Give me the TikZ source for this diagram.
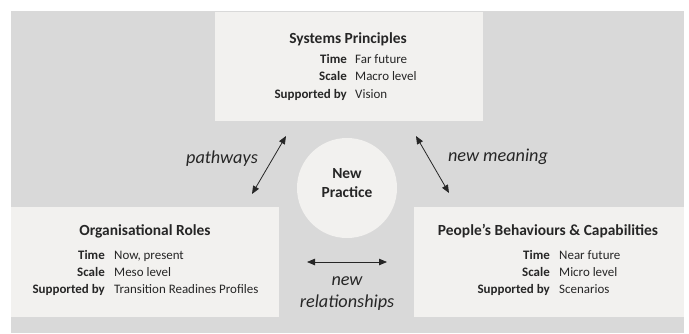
\documentclass[tikz,border=0pt]{standalone}
\usepackage{fontspec}
\setmainfont{Carlito}
\usetikzlibrary{arrows.meta}
\definecolor{bgc}{HTML}{D9D9D9}
\definecolor{boxc}{HTML}{F2F1EF}
\definecolor{txt}{HTML}{262626}
\tikzset{
  box/.style={fill=boxc, draw=none, inner sep=0pt, anchor=north west},
  ttl/.style={font=\fontsize{15.5}{17}\selectfont\bfseries, text=txt, inner sep=0pt, text height=10.5bp, text depth=3.5bp},
  key/.style={font=\fontsize{13}{15}\selectfont\bfseries, text=txt, inner sep=0pt, anchor=east, text height=9bp, text depth=3bp},
  val/.style={font=\fontsize{13}{15}\selectfont, text=txt, inner sep=0pt, anchor=west, text height=9bp, text depth=3bp},
  lbl/.style={font=\fontsize{18.3}{22}\selectfont\itshape, text=txt, inner sep=0pt, align=center},
  dbl/.style={{Triangle[length=8bp,width=6.5bp]}-{Triangle[length=8bp,width=6.5bp]}, draw=txt, line width=0.8bp}
}
\begin{document}
\begin{tikzpicture}[x={(1bp,0)}, y={(0,-1bp)}]
\useasboundingbox (0,0) rectangle (689,333);
\fill[white] (0,0) rectangle (689,333);
\fill[bgc] (11,11) rectangle (684,333);
% boxes
\node[box, minimum width=268bp, minimum height=109bp] (topbox) at (215,12) {};
\node[box, minimum width=268bp, minimum height=110bp] (leftbox) at (11,207) {};
\node[box, minimum width=270bp, minimum height=110bp] (rightbox) at (414,207) {};
\node[circle, fill=boxc, minimum size=100bp, inner sep=0pt] (circ) at (347,188) {};
% top box text
\node[ttl] (t1) at (348,40) {Systems Principles};
\node[key] (t2k) at (347,60) {Time};
\node[val] (t2v) at (355,60) {Far future};
\node[key] (t3k) at (347,77.5) {Scale};
\node[val] (t3v) at (355,77.5) {Macro level};
\node[key] (t4k) at (347,95) {Supported by};
\node[val] (t4v) at (355,95) {Vision};
% left box text
\node[ttl] (l1) at (145,232) {Organisational Roles};
\node[key] (l2k) at (105,256) {Time};
\node[val] (l2v) at (114,256) {Now, present};
\node[key] (l3k) at (105,273) {Scale};
\node[val] (l3v) at (114,273) {Meso level};
\node[key] (l4k) at (105,290) {Supported by};
\node[val] (l4v) at (114,290) {Transition Readines Profiles};
% right box text
\node[ttl] (r1) at (548,232) {People’s Behaviours \& Capabilities};
\node[key] (r2k) at (550,256) {Time};
\node[val] (r2v) at (559,256) {Near future};
\node[key] (r3k) at (550,273) {Scale};
\node[val] (r3v) at (559,273) {Micro level};
\node[key] (r4k) at (550,290) {Supported by};
\node[val] (r4v) at (559,290) {Scenarios};
% circle text
\node[font=\fontsize{15.5}{19}\selectfont\bfseries, text=txt, align=center, inner sep=0pt] (np) at (347,183.5) {New\\Practice};
% labels
\node[lbl] (pw) at (222,159) {pathways};
\node[lbl] (nm) at (498,157) {new meaning};
\node[lbl, font=\fontsize{18.3}{22}\selectfont\itshape] (nr) at (347,294) {new\\relationships};
% arrows
\coordinate (a1) at (286,136);
\coordinate (a2) at (252,194);
\coordinate (b1) at (416,136);
\coordinate (b2) at (449,193);
\coordinate (c1) at (307,262);
\coordinate (c2) at (387,262);
\draw[dbl] (a2) -- (a1);
\draw[dbl] (b1) -- (b2);
\draw[dbl] (c1) -- (c2);
\end{tikzpicture}
\end{document}
